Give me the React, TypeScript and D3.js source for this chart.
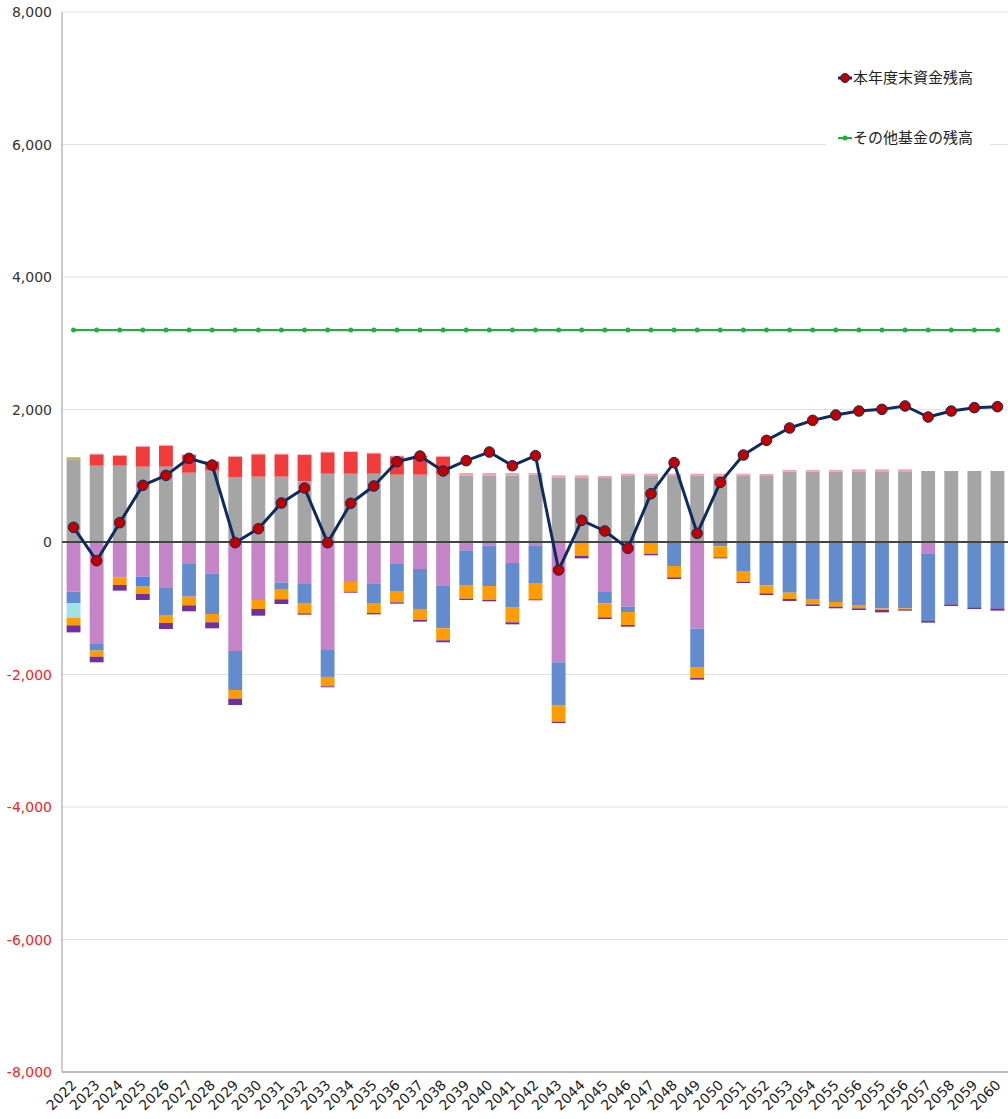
import React from "react";
import * as d3 from "d3";

const years = ["2022","2023","2024","2025","2026","2027","2028","2029","2030","2031","2032","2033","2034","2035","2036","2037","2038","2039","2040","2041","2042","2043","2044","2045","2046","2047","2048","2049","2050","2051","2052","2053","2054","2055","2056","2055","2056","2057","2058","2059","2060"];

const gray = [1248,1152,1152,1137,1137,1046,1077,976,986,986,921,1031,1031,1031,1016,1016,1016,1006,1006,1006,1016,976,976,966,1006,1006,996,1006,1006,1006,996,1062,1062,1062,1067,1067,1067,1072,1072,1072,1072];
const olive = [30,0,0,0,0,0,0,0,0,0,0,0,0,0,0,0,0,0,0,0,0,0,0,0,0,0,0,0,0,0,0,0,0,0,0,0,0,0,0,0,0];
const red = [0,171,151,302,317,267,135,312,337,337,392,322,327,307,277,282,272,0,0,0,0,0,0,0,0,0,0,0,0,0,0,0,0,0,0,0,0,0,0,0,0];
const pink = [0,10,10,12,12,10,10,10,10,10,10,10,10,10,10,10,10,35,35,35,25,30,30,30,25,25,35,25,25,25,30,25,25,25,30,30,30,0,0,0,0];

const purple = [750,1529,538,523,684,332,473,1645,875,614,634,1630,604,624,322,407,654,126,55,317,50,1816,0,755,976,0,0,1308,0,0,0,0,0,0,0,0,0,171,0,0,0];
const blue = [176,111,0,0,428,493,614,589,0,95,297,407,0,297,428,604,649,533,609,674,579,654,0,171,81,0,362,589,65,448,654,765,860,906,951,1001,1001,1021,941,986,1001];
const blue2 = [0,0,0,151,0,0,0,0,0,0,0,0,0,0,0,0,0,0,0,0,0,0,0,0,0,0,0,0,0,0,0,0,0,0,0,0,0,0,0,0,0];
const cyan = [216,0,0,0,0,0,0,0,0,0,0,0,0,0,0,0,0,0,0,0,0,0,0,0,0,0,0,0,0,0,0,0,0,0,0,0,0,0,0,0,0];
const orange = [116,91,111,111,110,131,125,130,136,156,146,141,146,151,161,166,181,196,211,221,236,242,211,211,196,181,171,155,166,151,121,95,81,70,50,25,15,0,0,0,0];
const dpurple = [106,85,85,90,91,90,91,96,101,71,20,15,15,20,20,25,30,20,20,31,15,20,36,25,25,20,25,26,16,20,25,30,25,25,25,36,20,25,25,25,35];

const balance = [221,-282,292,855,1006,1263,1162,-10,201,589,815,-10,584,845,1212,1298,1072,1228,1358,1152,1303,-423,327,166,-96,729,1197,131,900,1313,1534,1721,1836,1917,1977,2002,2053,1887,1977,2028,2043];
const otherFund = years.map(() => 3200);

const yTicks = [8000,6000,4000,2000,0,-2000,-4000,-6000,-8000];

const legendLabels = ["本年度末資金残高", "その他基金の残高"];

const seriesKeys = ["gray","olive","red","pink","purple","blue","blue2","cyan","orange","dpurple"];
const seriesColors: Record<string,string> = {
  gray: "#a5a5a5",
  olive: "#b8b040",
  red: "#f23c3c",
  pink: "#f5a0aa",
  purple: "#c584c8",
  blue: "#638ccf",
  blue2: "#4d84e4",
  cyan: "#9ce2e6",
  orange: "#ff9c00",
  dpurple: "#7030a0",
};

const fmt = (t: number) => (t < 0 ? "-" : "") + d3.format(",")(Math.abs(t));

export default function App() {
  const W = 1008, H = 1119;
  const left = 62, right = 1009, top = 12, bottom = 1072;

  const idx = years.map((_, i) => i);
  const x = d3.scaleBand<number>().domain(idx).range([left, right]).paddingInner(0.4).paddingOuter(0.2);
  const y = d3.scaleLinear().domain([-8000, 8000]).range([bottom, top]);

  const rows = idx.map((i) => ({
    i,
    gray: gray[i], olive: olive[i], red: red[i], pink: pink[i],
    purple: -purple[i], blue: -blue[i], blue2: -blue2[i], cyan: -cyan[i], orange: -orange[i], dpurple: -dpurple[i],
  }));
  const stack = d3.stack<any>().keys(seriesKeys).offset(d3.stackOffsetDiverging);
  const stacked = stack(rows);

  const cx = (i: number) => (x(i) as number) + x.bandwidth() / 2;
  const line = d3.line<number>().x((_, i) => cx(i)).y((d) => y(d));

  const font = "'DejaVu Sans', Verdana, sans-serif";
  const cjk = "'Noto Sans CJK JP', 'Noto Sans', sans-serif";

  return (
    <svg width={W} height={H} style={{ position: "absolute", left: 0, top: 0, background: "#fff" }}>
      {yTicks.map((t) => (
        <line key={"g" + t} x1={left} x2={W} y1={y(t)} y2={y(t)} stroke="#e0e0e0" strokeWidth={1} />
      ))}
      {yTicks.map((t) => (
        <text key={"yl" + t} x={52} y={y(t) + 5} textAnchor="end" fontFamily={font} fontSize={14}
          fill={t < 0 ? "#ff2020" : "#333"}>{fmt(t)}</text>
      ))}
      {stacked.map((s) => (
        <g key={s.key} fill={seriesColors[s.key]}>
          {s.map((d, i) => {
            const h = Math.abs(y(d[0]) - y(d[1]));
            if (h < 0.01) return null;
            return <rect key={i} x={x(i)} y={Math.min(y(d[0]), y(d[1]))} width={x.bandwidth()} height={h} />;
          })}
        </g>
      ))}
      <line x1={left} x2={left} y1={top} y2={bottom} stroke="#999" strokeWidth={1} />
      <line x1={left} x2={W} y1={bottom} y2={bottom} stroke="#bbb" strokeWidth={2} />
      <line x1={left} x2={W} y1={y(0)} y2={y(0)} stroke="#444" strokeWidth={2} />
      <path d={line(otherFund) || ""} fill="none" stroke="#1db23a" strokeWidth={2} />
      {otherFund.map((v, i) => (
        <circle key={"og" + i} cx={cx(i)} cy={y(v)} r={2.5} fill="#1db23a" />
      ))}
      <path d={line(balance) || ""} fill="none" stroke="#0f2a5e" strokeWidth={3} strokeLinejoin="round" />
      {balance.map((v, i) => (
        <circle key={"b" + i} cx={cx(i)} cy={y(v)} r={5.3} fill="#c00000" stroke="#0f2a5e" strokeWidth={1} />
      ))}
      {years.map((yr, i) => (
        <text key={"xl" + i} transform={`translate(${cx(i) + 4},${1086}) rotate(-45)`} textAnchor="end"
          fontFamily={font} fontSize={14} fill="#222">{yr}</text>
      ))}
      <rect x={826} y={58} width={164} height={92} fill="#fff" />
      <line x1={838} x2={852} y1={78} y2={78} stroke="#0f2a5e" strokeWidth={3} />
      <circle cx={845} cy={78} r={4.5} fill="#c00000" stroke="#0f2a5e" strokeWidth={1} />
      <text x={853} y={83} fontFamily={cjk} fontSize={15} fill="#222">{legendLabels[0]}</text>
      <line x1={838} x2={852} y1={138} y2={138} stroke="#1db23a" strokeWidth={2} />
      <circle cx={845} cy={138} r={2.5} fill="#1db23a" />
      <text x={853} y={143} fontFamily={cjk} fontSize={15} fill="#222">{legendLabels[1]}</text>
    </svg>
  );
}
